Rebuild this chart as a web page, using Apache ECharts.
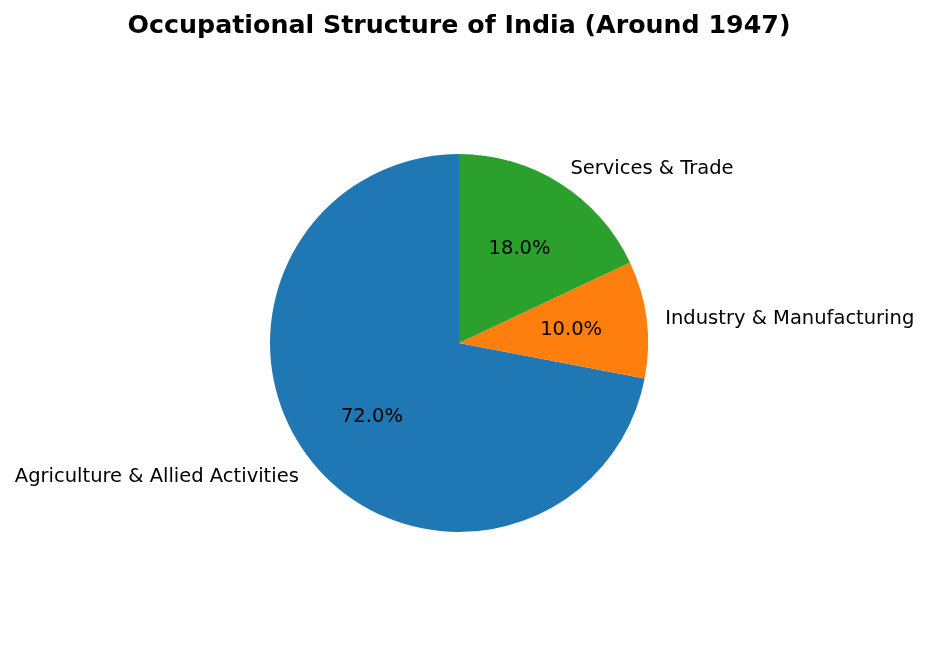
<!DOCTYPE html>
<html>
<head>
<meta charset="utf-8">
<script src="https://cdn.jsdelivr.net/npm/echarts@6/dist/echarts.min.js"></script>
<style>
    html, body { margin: 0; padding: 0; background: #fff; }
    #chart { width: 928px; height: 657px; }
</style>
</head>
<body>
<div id="chart"></div>
<script>
// 职业结构
var categories = ['Agriculture & Allied Activities', 'Industry & Manufacturing', 'Services & Trade'];
var shares = [72, 10, 18];
var colorList = ['#1f77b4', '#ff7f0e', '#2ca02c'];

(function () {
    var myChart = echarts.init(document.getElementById('chart'));
    var font = 'DejaVu Sans';
    var R = 189;
    var center = [459, 343];

    var pieData = categories.map(function (name, i) {
        return { name: name, value: shares[i], itemStyle: { color: colorList[i] } };
    });
    var labelData = categories.map(function (name, i) {
        return { name: name, value: shares[i] };
    });

    var option = {
        backgroundColor: '#fff',
        animation: false,
        title: {
            text: 'Occupational Structure of India (Around 1947)',
            left: 454,
            top: 9,
            textAlign: 'center',
            textStyle: {
                fontFamily: font,
                fontSize: 25.3,
                fontWeight: 'bold',
                color: '#000'
            }
        },
        series: [{
            // 扇区 + 外侧标签
            type: 'pie',
            center: center,
            radius: R,
            startAngle: 90,
            clockwise: false,
            avoidLabelOverlap: false,
            silent: true,
            label: {
                show: true,
                position: 'outside',
                distanceToLabelLine: 0,
                offset: [0, 1.5],
                fontFamily: font,
                fontSize: 19.5,
                color: '#000',
                formatter: '{b}'
            },
            labelLine: {
                show: false,
                length: R * 0.1,
                length2: 0
            },
            data: pieData
        }, {
            // 百分比标签 (约 0.6r)
            type: 'pie',
            center: center,
            radius: [31, R],
            startAngle: 90,
            clockwise: false,
            avoidLabelOverlap: false,
            silent: true,
            itemStyle: { color: 'rgba(0,0,0,0)' },
            label: {
                show: true,
                position: 'inside',
                offset: [0, 1.5],
                fontFamily: font,
                fontSize: 19.5,
                color: '#000',
                formatter: function (params) {
                    return params.value.toFixed(1) + '%';
                }
            },
            labelLine: { show: false },
            data: labelData
        }]
    };
    myChart.setOption(option);
    window.addEventListener('resize', function () {
        myChart.resize();
    });
})();
</script>
</body>
</html>
